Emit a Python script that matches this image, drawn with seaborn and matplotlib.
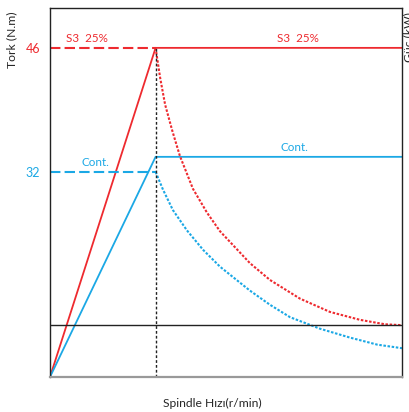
import numpy as np
import pandas as pd
import matplotlib
matplotlib.use("Agg")
import matplotlib.pyplot as plt
import seaborn as sns

# Valores (escala esquematica)
hiz_baz = 3.0       # velocidad base
hiz_max = 10.0
y_min, y_max = 8.85, 50.5

tork_s3 = 46
tork_cont = 32
guc_s3 = 46          # nivel de potencia S3 (linea roja horizontal)
guc_cont = 33.7      # nivel de potencia continua (linea azul horizontal)
linea_ref = 14.7     # linea negra horizontal

# Curvas de torque (punteadas) leidas punto a punto
s3_x = [3.0, 3.13, 3.27, 3.47, 3.69, 4.06, 4.46, 4.83, 5.68, 6.25, 7.10, 7.95, 8.81, 9.52, 10.0]
s3_y = [46.0, 42.6, 39.6, 36.7, 33.8, 30.1, 27.4, 25.3, 21.7, 19.8, 17.7, 16.2, 15.3, 14.8, 14.7]

cont_x = [3.0, 3.21, 3.49, 3.89, 4.35, 4.83, 5.68, 6.25, 6.82, 7.67, 8.52, 9.3, 10.0]
cont_y = [32.0, 30.0, 27.7, 25.4, 23.2, 21.3, 18.6, 17.0, 15.6, 14.3, 13.3, 12.5, 12.1]

kirmizi = '#ee2a2f'
mavi = '#1ba8e5'

sns.set_style("white")
plt.rcParams['font.family'] = ['Lato', 'DejaVu Sans']

fig = plt.figure(figsize=(4.1, 4.12), dpi=100)
ax = fig.add_axes([50/410, 35/412, 352/410, 369/412])

# Potencia: sube lineal hasta la velocidad base y luego constante
sns.lineplot(x=[0, hiz_baz, hiz_max], y=[y_min, guc_s3, guc_s3], color=kirmizi, lw=1.3, ax=ax)
sns.lineplot(x=[0, hiz_baz, hiz_max], y=[y_min, guc_cont, guc_cont], color=mavi, lw=1.3, ax=ax)

# Torque: discontinuo hasta la base, punteado despues
sns.lineplot(x=[0, hiz_baz], y=[tork_s3, tork_s3], color=kirmizi, lw=1.5, ax=ax,
             linestyle=(0, (5, 2)))
sns.lineplot(x=[0, hiz_baz], y=[tork_cont, tork_cont], color=mavi, lw=1.5, ax=ax,
             linestyle=(0, (5, 2)))
sns.lineplot(x=s3_x, y=s3_y, color=kirmizi, lw=1.5, ax=ax, linestyle=(0, (1.2, 0.8)))
sns.lineplot(x=cont_x, y=cont_y, color=mavi, lw=1.5, ax=ax, linestyle=(0, (1.2, 0.8)))

# Lineas negras de referencia
ax.axhline(linea_ref, color='#222222', lw=1)
ax.plot([hiz_baz, hiz_baz], [y_min, tork_s3], color='#222222', lw=1, linestyle=(0, (2, 1.5)))

# Textos
ax.text(0.45, tork_s3 + 0.4, 'S3  25%', color=kirmizi, fontsize=8.4, va='bottom')
ax.text(6.45, tork_s3 + 0.4, 'S3  25%', color=kirmizi, fontsize=8.4, va='bottom')
ax.text(0.9, tork_cont + 0.4, 'Cont.', color=mavi, fontsize=8.4, va='bottom')
ax.text(6.55, guc_cont + 0.4, 'Cont.', color=mavi, fontsize=8.4, va='bottom')

ax.set_xlim(0, hiz_max)
ax.set_ylim(y_min, y_max)
ax.set_xticks([])
ax.set_yticks([tork_cont, tork_s3])
ax.set_yticklabels([str(tork_cont), str(tork_s3)], fontsize=9)
ax.tick_params(axis='y', length=0, pad=7)
ax.get_yticklabels()[0].set_color(mavi)
ax.get_yticklabels()[1].set_color(kirmizi)
ax.set_xlabel('')
ax.set_ylabel('')

for lado in ['left', 'right', 'top']:
    ax.spines[lado].set_color('#222222')
    ax.spines[lado].set_linewidth(1)
ax.spines['bottom'].set_color('#999999')
ax.spines['bottom'].set_linewidth(1.6)

fig.text(12/410, 1 - 40/412, 'Tork (N.m)', rotation=90, ha='center', va='center', fontsize=8.7)
fig.text(409/410, 1 - 12/412, 'Güç (kW)', rotation=90, ha='center', va='top', fontsize=8.7)
fig.text(212/410, 1 - 403/412, 'Spindle Hızı(r/min)', ha='center', va='center', fontsize=8.7)

fig.savefig('out.png', dpi=100)
